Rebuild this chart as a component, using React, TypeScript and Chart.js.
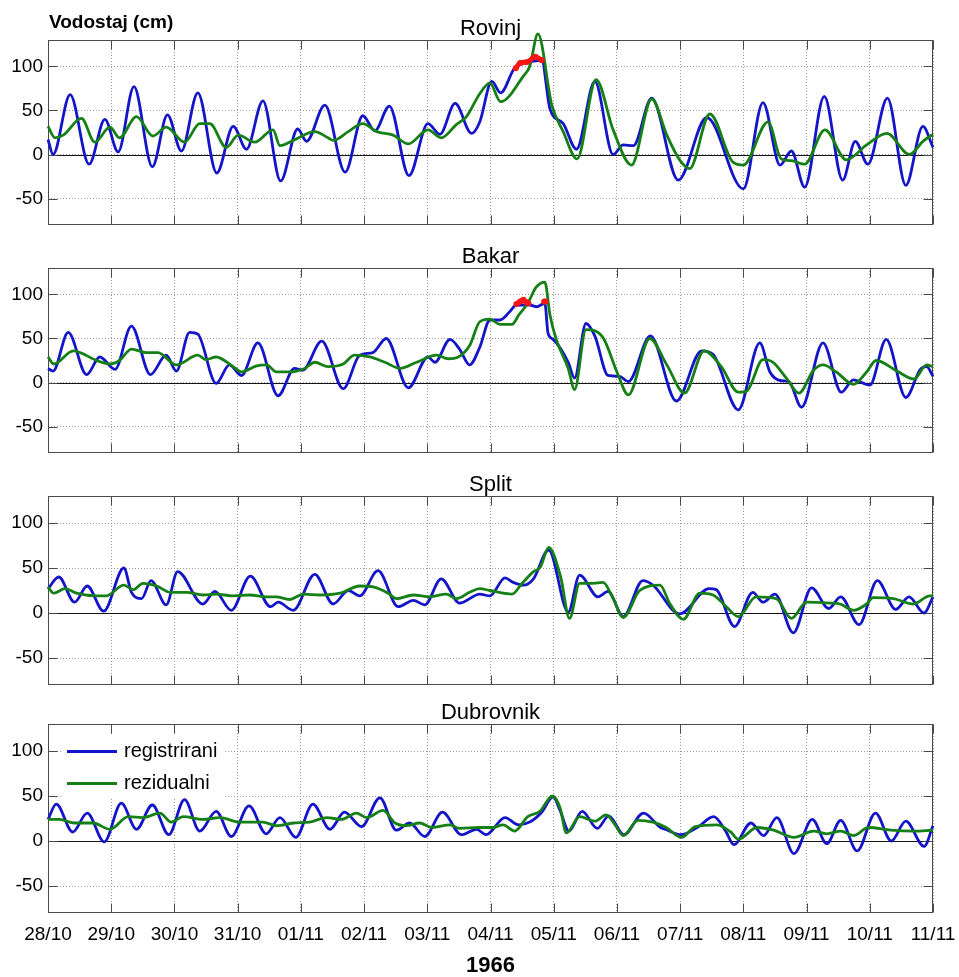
import React, { useEffect, useRef } from "react";
import { Chart, registerables } from "chart.js";

Chart.register(...registerables);

// ---------------- data ----------------
const dateLabels = ["28/10", "29/10", "30/10", "31/10", "01/11", "02/11", "03/11", "04/11", "05/11", "06/11", "07/11", "08/11", "09/11", "10/11", "11/11"];
const yTickValues = [-50, 0, 50, 100];
const stationNames = ["Rovinj", "Bakar", "Split", "Dubrovnik"];
const seriesLabels = ["registrirani", "rezidualni"];
const yAxisTitle = "Vodostaj (cm)";
const yearLabel = "1966";

type P = [number, number][]; // [day since 28/10, cm]

const rovinjRegistrirani: P = [[0, 17], [0.08, 0], [0.35, 68], [0.65, -11], [0.9, 40], [1.11, 3], [1.36, 77], [1.65, -14], [1.89, 45], [2.11, 4], [2.37, 70], [2.67, -21], [2.93, 32], [3.14, 6], [3.4, 61], [3.68, -30], [3.95, 29], [4.09, 15], [4.38, 56], [4.7, -20], [4.98, 44], [5.17, 27], [5.4, 55], [5.71, -24], [6.01, 35], [6.2, 23], [6.44, 58], [6.7, 24], [6.83, 37], [7.02, 83], [7.16, 70], [7.38, 98], [7.55, 104], [7.81, 107], [7.94, 52], [8.15, 35], [8.36, 6], [8.65, 83], [8.94, 0], [9.1, 11], [9.26, 10], [9.55, 64], [9.97, -29], [10.42, 42], [11.0, -39], [11.31, 59], [11.58, -12], [11.76, 4], [11.97, -37], [12.28, 66], [12.57, -29], [12.77, 15], [12.97, -11], [13.28, 64], [13.57, -35], [13.84, 32], [14.0, 8]];
const rovinjRezidualni: P = [[0, 32], [0.11, 19], [0.24, 22], [0.53, 41], [0.74, 14], [0.98, 31], [1.13, 19], [1.4, 43], [1.66, 21], [1.87, 31], [2.16, 14], [2.4, 35], [2.56, 35], [2.82, 8], [3.01, 22], [3.27, 14], [3.56, 28], [3.67, 10], [3.88, 16], [4.22, 26], [4.43, 19], [4.51, 16], [4.75, 26], [4.98, 35], [5.2, 26], [5.46, 22], [5.7, 12], [6.01, 28], [6.22, 19], [6.46, 34], [6.62, 43], [6.83, 69], [6.99, 81], [7.16, 60], [7.52, 89], [7.62, 100], [7.75, 137], [7.97, 56], [8.15, 26], [8.37, -5], [8.67, 85], [8.94, 28], [9.23, -12], [9.55, 63], [9.79, 22], [10.0, -7], [10.15, -16], [10.47, 46], [10.84, -9], [11.0, -12], [11.39, 37], [11.6, -5], [11.76, -7], [11.97, -11], [12.29, 28], [12.63, -6], [12.95, 11], [13.27, 24], [13.63, 0], [13.84, 15], [14.0, 23]];
const rovinjPoplava: P[] = [[[7.4, 98], [7.47, 104], [7.58, 105], [7.71, 111], [7.81, 107]]];

const bakarRegistrirani: P = [[0, 16], [0.08, 13], [0.32, 57], [0.61, 9], [0.82, 29], [1.06, 15], [1.32, 64], [1.62, 9], [1.87, 31], [2.03, 13], [2.24, 57], [2.37, 55], [2.66, -1], [2.87, 20], [3.06, 8], [3.32, 45], [3.64, -15], [3.9, 16], [4.03, 14], [4.33, 47], [4.67, -7], [4.93, 31], [5.14, 34], [5.35, 50], [5.7, -6], [6.01, 29], [6.12, 23], [6.36, 49], [6.51, 38], [6.67, 20], [6.83, 40], [6.99, 71], [7.15, 71], [7.3, 80], [7.41, 88], [7.62, 88], [7.73, 86], [7.86, 90], [7.91, 56], [7.99, 49], [8.23, 23], [8.33, 5], [8.51, 67], [8.65, 53], [8.86, 8], [9.04, 7], [9.18, 1], [9.53, 53], [9.94, -21], [10.34, 36], [10.52, 32], [10.92, -31], [11.26, 45], [11.42, 12], [11.6, 2], [11.72, 1], [11.92, -28], [12.26, 45], [12.55, -11], [12.74, 3], [13.0, -3], [13.26, 49], [13.57, -17], [13.8, 15], [13.9, 18], [14.0, 7]];
const bakarRezidualni: P = [[0, 29], [0.09, 21], [0.4, 36], [0.77, 25], [0.98, 21], [1.13, 25], [1.32, 38], [1.56, 34], [1.74, 34], [2.03, 20], [2.37, 31], [2.5, 26], [2.66, 29], [2.93, 18], [3.06, 12], [3.3, 19], [3.46, 20], [3.61, 12], [3.82, 12], [4.06, 16], [4.22, 23], [4.43, 18], [4.67, 21], [4.85, 31], [5.09, 29], [5.33, 23], [5.57, 16], [5.83, 23], [6.15, 31], [6.33, 27], [6.49, 29], [6.67, 42], [6.83, 69], [6.99, 72], [7.15, 66], [7.34, 66], [7.45, 77], [7.59, 90], [7.72, 108], [7.86, 114], [7.94, 77], [8.04, 49], [8.23, 16], [8.33, -8], [8.51, 60], [8.78, 51], [9.0, 12], [9.18, -14], [9.52, 50], [9.79, 20], [10.07, -12], [10.38, 36], [10.65, 18], [10.92, -11], [11.05, -10], [11.31, 26], [11.47, 23], [11.68, 5], [11.88, -12], [12.11, 14], [12.26, 20], [12.47, 12], [12.74, -2], [12.95, 12], [13.1, 25], [13.43, 13], [13.7, 4], [13.9, 20], [14.0, 18]];
const bakarPoplava: P[] = [[[7.41, 89], [7.47, 92], [7.52, 94], [7.57, 91], [7.6, 90]], [[7.85, 92], [7.87, 92]]];

const splitRegistrirani: P = [[0, 27], [0.17, 40], [0.42, 12], [0.62, 30], [0.88, 2], [1.2, 50], [1.32, 23], [1.48, 16], [1.63, 36], [1.87, 9], [2.05, 46], [2.45, 10], [2.64, 24], [2.9, 3], [3.2, 41], [3.52, 7], [3.64, 12], [3.88, 3], [4.22, 43], [4.51, 10], [4.75, 25], [4.93, 19], [5.22, 47], [5.54, 7], [5.78, 14], [5.96, 9], [6.22, 38], [6.51, 11], [6.83, 21], [6.99, 19], [7.23, 39], [7.36, 34], [7.52, 31], [7.68, 38], [7.92, 70], [8.23, 1], [8.41, 42], [8.7, 18], [8.86, 24], [9.1, -4], [9.41, 36], [9.57, 31], [9.99, -1], [10.46, 27], [10.57, 26], [10.86, -15], [11.15, 23], [11.31, 12], [11.5, 21], [11.79, -22], [12.08, 28], [12.35, 5], [12.54, 18], [12.83, -13], [13.12, 36], [13.41, 4], [13.62, 18], [13.86, 0], [14.0, 18]];
const splitRezidualni: P = [[0, 29], [0.09, 22], [0.27, 27], [0.45, 22], [0.77, 19], [0.92, 19], [1.2, 31], [1.35, 26], [1.5, 33], [1.72, 30], [1.93, 23], [2.19, 23], [2.45, 20], [2.66, 21], [2.93, 19], [3.19, 20], [3.45, 18], [3.61, 18], [3.82, 15], [4.04, 21], [4.3, 20], [4.62, 22], [4.93, 30], [5.14, 29], [5.38, 22], [5.51, 16], [5.78, 20], [6.04, 18], [6.3, 21], [6.46, 16], [6.67, 23], [6.83, 27], [6.99, 25], [7.34, 21], [7.5, 33], [7.68, 46], [7.79, 51], [7.92, 73], [8.11, 40], [8.25, -6], [8.41, 33], [8.62, 33], [8.78, 34], [8.94, 16], [9.1, -5], [9.36, 25], [9.68, 31], [9.84, 10], [10.05, -7], [10.31, 22], [10.52, 20], [10.73, 7], [10.92, -4], [11.2, 18], [11.52, 16], [11.76, -6], [12.0, 12], [12.37, 11], [12.53, 10], [12.74, 3], [12.95, 10], [13.05, 17], [13.37, 16], [13.69, 10], [13.95, 19], [14.0, 19]];

const dubrovnikRegistrirani: P = [[0, 24], [0.13, 41], [0.39, 10], [0.62, 31], [0.89, -1], [1.16, 42], [1.4, 13], [1.65, 40], [1.91, 7], [2.16, 46], [2.4, 11], [2.66, 33], [2.9, 5], [3.18, 39], [3.45, 8], [3.67, 26], [3.92, 4], [4.19, 41], [4.46, 13], [4.69, 32], [4.96, 16], [5.25, 48], [5.51, 12], [5.72, 20], [5.96, 5], [6.24, 32], [6.54, 7], [6.78, 13], [6.93, 7], [7.23, 26], [7.44, 18], [7.62, 21], [7.81, 32], [7.99, 49], [8.1, 34], [8.24, 11], [8.45, 33], [8.69, 14], [8.87, 28], [9.11, 7], [9.42, 31], [9.69, 15], [9.8, 12], [10.01, 7], [10.27, 15], [10.53, 27], [10.72, 11], [10.85, -4], [11.12, 20], [11.32, 6], [11.53, 26], [11.8, -14], [12.09, 24], [12.32, -3], [12.54, 23], [12.8, -11], [13.09, 31], [13.34, 0], [13.57, 22], [13.86, -6], [14.0, 17]];
const dubrovnikRezidualni: P = [[0, 24], [0.18, 24], [0.42, 20], [0.71, 20], [0.98, 13], [1.27, 27], [1.5, 26], [1.77, 31], [1.95, 21], [2.14, 27], [2.45, 24], [2.72, 26], [3.03, 21], [3.4, 21], [3.61, 17], [3.88, 20], [4.14, 21], [4.41, 26], [4.64, 24], [4.88, 31], [5.04, 26], [5.3, 34], [5.49, 20], [5.67, 17], [5.88, 20], [6.07, 15], [6.36, 18], [6.51, 14], [6.83, 15], [7.04, 15], [7.2, 18], [7.38, 11], [7.59, 27], [7.78, 33], [7.98, 50], [8.1, 37], [8.2, 9], [8.41, 27], [8.65, 22], [8.83, 29], [8.96, 19], [9.1, 6], [9.33, 23], [9.57, 21], [9.78, 15], [10.02, 4], [10.24, 16], [10.58, 18], [10.8, 10], [10.92, 2], [11.22, 15], [11.48, 12], [11.8, 4], [12.11, 11], [12.32, 8], [12.54, 11], [12.74, 6], [12.98, 15], [13.33, 12], [13.7, 11], [14.0, 12]];

const stations = [
  { reg: rovinjRegistrirani, res: rovinjRezidualni, flood: rovinjPoplava },
  { reg: bakarRegistrirani, res: bakarRezidualni, flood: bakarPoplava },
  { reg: splitRegistrirani, res: splitRezidualni, flood: [] as P[] },
  { reg: dubrovnikRegistrirani, res: dubrovnikRezidualni, flood: [] as P[] },
];

// ---------------- styling / layout ----------------
const FONT = "'Liberation Sans', Arial, Helvetica, sans-serif";
const BLUE = "#1414c8";
const GREEN = "#168016";
const RED = "#ff1414";
const LINE_W = 2.8;
const Y_AXIS_W = 48;
const RIGHT_PAD = 26;
const TOP_PAD = 40;
const PLOT_H = 189;
const FIRST_TOP = 40;
const STEP = 228;
const TICK_LEN = 9;

function xAxisHeight(idx: number) {
  return idx === 3 ? 64 : 0;
}
function canvasHeight(idx: number) {
  return TOP_PAD + PLOT_H + xAxisHeight(idx);
}
function canvasTop(idx: number) {
  return FIRST_TOP + STEP * idx - TOP_PAD;
}

const toXY = (p: P) => p.map(([x, y]) => ({ x, y }));

function decorPlugin(idx: number) {
  return {
    id: "decor" + idx,
    beforeDatasetsDraw(chart: any) {
      const { ctx, chartArea: a, scales } = chart;
      const xs = scales.x;
      const ys = scales.y;
      const L = Math.round(a.left) + 0.5;
      const R = Math.round(a.right) - 0.5;
      const T = Math.round(a.top) + 0.5;
      const B = Math.round(a.bottom) - 0.5;
      ctx.save();
      ctx.lineWidth = 1;
      const z = Math.round(ys.getPixelForValue(0)) + 0.5;
      ctx.strokeStyle = "#151515";
      ctx.beginPath();
      ctx.moveTo(L, z);
      ctx.lineTo(R, z);
      ctx.stroke();
      ctx.strokeStyle = "#4a4a4a";
      ctx.beginPath();
      xs.ticks.forEach((t: any) => {
        const p = Math.round(xs.getPixelForValue(t.value)) + 0.5;
        ctx.moveTo(p, T);
        ctx.lineTo(p, T + TICK_LEN);
        ctx.moveTo(p, B);
        ctx.lineTo(p, B - TICK_LEN);
      });
      ys.ticks.forEach((t: any) => {
        const p = Math.round(ys.getPixelForValue(t.value)) + 0.5;
        ctx.moveTo(L, p);
        ctx.lineTo(L + TICK_LEN, p);
        ctx.moveTo(R, p);
        ctx.lineTo(R - TICK_LEN, p);
      });
      ctx.stroke();
      ctx.strokeRect(L, T, R - L, B - T);
      ctx.restore();
    },
    afterDatasetsDraw(chart: any) {
      if (idx !== 3) return;
      const { ctx, chartArea: a } = chart;
      const ds = chart.data.datasets;
      ctx.save();
      ctx.fillStyle = "#fff";
      ctx.fillRect(a.left + 14, a.top + 12, 162, 62);
      const rows = [a.top + 27, a.top + 59];
      [0, 1].forEach((k) => {
        const y = Math.round(rows[k]) + 0.5;
        ctx.strokeStyle = ds[k].borderColor;
        ctx.lineWidth = ds[k].borderWidth;
        ctx.beginPath();
        ctx.moveTo(a.left + 19, y);
        ctx.lineTo(a.left + 69, y);
        ctx.stroke();
        ctx.fillStyle = "#000";
        ctx.font = `20px ${FONT}`;
        ctx.textAlign = "left";
        ctx.textBaseline = "middle";
        ctx.fillText(ds[k].label, a.left + 76, y);
      });
      ctx.restore();
    },
    afterDraw(chart: any) {
      const { ctx, chartArea: a } = chart;
      ctx.save();
      ctx.fillStyle = "#000";
      ctx.textBaseline = "alphabetic";
      ctx.textAlign = "center";
      ctx.font = `22px ${FONT}`;
      ctx.fillText(stationNames[idx], (a.left + a.right) / 2, a.top - 5);
      if (idx === 0) {
        ctx.textAlign = "left";
        ctx.font = `bold 19px ${FONT}`;
        ctx.fillText(yAxisTitle, 49, a.top - 12);
      }
      if (idx === 3) {
        ctx.textAlign = "center";
        ctx.font = `bold 22px ${FONT}`;
        ctx.fillText(yearLabel, (a.left + a.right) / 2, a.bottom + 59);
      }
      ctx.restore();
    },
  };
}

function buildConfig(idx: number): any {
  const st = stations[idx];
  const common = {
    pointRadius: 0,
    fill: false,
    cubicInterpolationMode: "monotone",
    clip: false,
  };
  const datasets: any[] = [
    { ...common, label: seriesLabels[0], data: toXY(st.reg), borderColor: BLUE, borderWidth: LINE_W, order: 2 },
    { ...common, label: seriesLabels[1], data: toXY(st.res), borderColor: GREEN, borderWidth: LINE_W, order: 1 },
  ];
  st.flood.forEach((seg) => {
    datasets.push({
      ...common,
      label: "",
      data: toXY(seg),
      borderColor: RED,
      backgroundColor: RED,
      borderWidth: 5,
      pointRadius: 3,
      pointBorderWidth: 0,
      order: 0,
    });
  });
  const gridOpts = { color: "#9a9a9a", lineWidth: 1, drawTicks: false };
  const borderOpts = { display: false, dash: [1, 2] };
  const tickFont = { family: FONT, size: 19 };
  return {
    type: "line",
    data: { datasets },
    plugins: [decorPlugin(idx)],
    options: {
      responsive: false,
      animation: false,
      devicePixelRatio: 1,
      events: [],
      layout: { padding: { top: TOP_PAD, right: RIGHT_PAD, left: 0, bottom: 0 } },
      plugins: { legend: { display: false }, tooltip: { enabled: false }, title: { display: false } },
      scales: {
        x: {
          type: "linear",
          min: 0,
          max: dateLabels.length - 1,
          afterBuildTicks: (s: any) => {
            s.ticks = dateLabels.map((_, i) => ({ value: i }));
          },
          afterFit: (s: any) => {
            s.height = xAxisHeight(idx);
            s.paddingLeft = 0;
            s.paddingRight = 0;
          },
          grid: gridOpts,
          border: borderOpts,
          ticks: {
            display: idx === 3,
            autoSkip: false,
            maxRotation: 0,
            minRotation: 0,
            padding: 10,
            color: "#000",
            font: tickFont,
            callback: (v: any) => dateLabels[Math.round(v)] ?? "",
          },
        },
        y: {
          type: "linear",
          min: -80,
          max: 130,
          afterBuildTicks: (s: any) => {
            s.ticks = yTickValues.map((v) => ({ value: v }));
          },
          afterFit: (s: any) => {
            s.width = Y_AXIS_W;
            s.paddingTop = 0;
            s.paddingBottom = 0;
          },
          grid: gridOpts,
          border: borderOpts,
          ticks: {
            autoSkip: false,
            padding: 5,
            color: "#000",
            font: tickFont,
            callback: (v: any) => String(v),
          },
        },
      },
    },
  };
}

export default function App() {
  const r0 = useRef<HTMLCanvasElement>(null);
  const r1 = useRef<HTMLCanvasElement>(null);
  const r2 = useRef<HTMLCanvasElement>(null);
  const r3 = useRef<HTMLCanvasElement>(null);
  const refs = [r0, r1, r2, r3];

  useEffect(() => {
    const charts = refs.map((r, idx) => new Chart(r.current as HTMLCanvasElement, buildConfig(idx)));
    return () => charts.forEach((c) => c.destroy());
  }, []);

  return (
    <div
      style={{
        position: "absolute",
        left: 0,
        top: 0,
        width: 959,
        height: 977,
        background: "#fff",
        overflow: "hidden",
      }}
    >
      {stations.map((_, idx) => (
        <canvas
          key={idx}
          ref={refs[idx]}
          width={959}
          height={canvasHeight(idx)}
          style={{ position: "absolute", left: 0, top: canvasTop(idx), width: 959, height: canvasHeight(idx) }}
        />
      ))}
    </div>
  );
}
